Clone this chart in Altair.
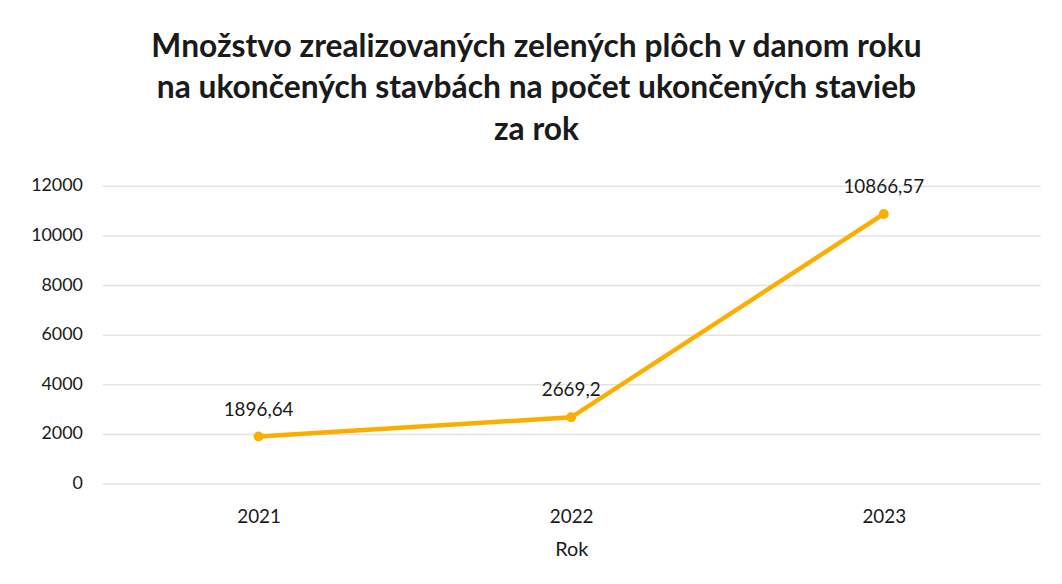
import altair as alt
import pandas as pd

years = ["2021", "2022", "2023"]
values = [1896.64, 2669.2, 10866.57]
labels = ["1896,64", "2669,2", "10866,57"]

df = pd.DataFrame({"Rok": years, "Hodnota": values, "Label": labels})

FONT = "Lato"
COLOR = "#FCAE00"

x = alt.X("Rok:N", title="Rok", sort=years,
          scale=alt.Scale(type="point", padding=0.5),
          axis=alt.Axis(labelAngle=0, labelFontSize=19, titleFontSize=20,
                        labelColor="#1a1a1a", titleColor="#1a1a1a", titleFontWeight="normal",
                        labelPadding=24, titlePadding=14, domain=False, ticks=False, grid=False,
                        labelFont=FONT, titleFont=FONT))
y = alt.Y("Hodnota:Q", title=None,
          scale=alt.Scale(domain=[0, 12000]),
          axis=alt.Axis(values=[0, 2000, 4000, 6000, 8000, 10000, 12000], labelFontSize=18,
                        labelColor="#1a1a1a", labelPadding=20, domain=False, ticks=False,
                        gridColor="#e3e3e3", gridWidth=1.5, labelFont=FONT, format="d"))

base = alt.Chart(df).encode(x=x, y=y)
line = base.mark_line(color=COLOR, strokeWidth=4.5)
pts = base.mark_circle(color=COLOR, size=100, opacity=1)
txt = base.mark_text(dy=-27, fontSize=19, color="#1a1a1a", font=FONT).encode(text="Label:N")

chart = alt.layer(line, pts, txt).properties(
    width=945, height=300,
    autosize=alt.AutoSizeParams(type="none"),
    padding={"left": 95, "top": 177, "right": 14, "bottom": 91},
    title=alt.TitleParams(
        ["Množstvo zrealizovaných zelených plôch v danom roku",
         "na ukončených stavbách na počet ukončených stavieb",
         "za rok"],
        fontSize=32, font=FONT, fontWeight="bold", color="#1a1a1a",
        anchor="middle", lineHeight=42, offset=30, dx=-35),
).configure(background="white").configure_view(stroke=None)

chart.save("out.html", embed_options={"renderer": "svg", "actions": False})
